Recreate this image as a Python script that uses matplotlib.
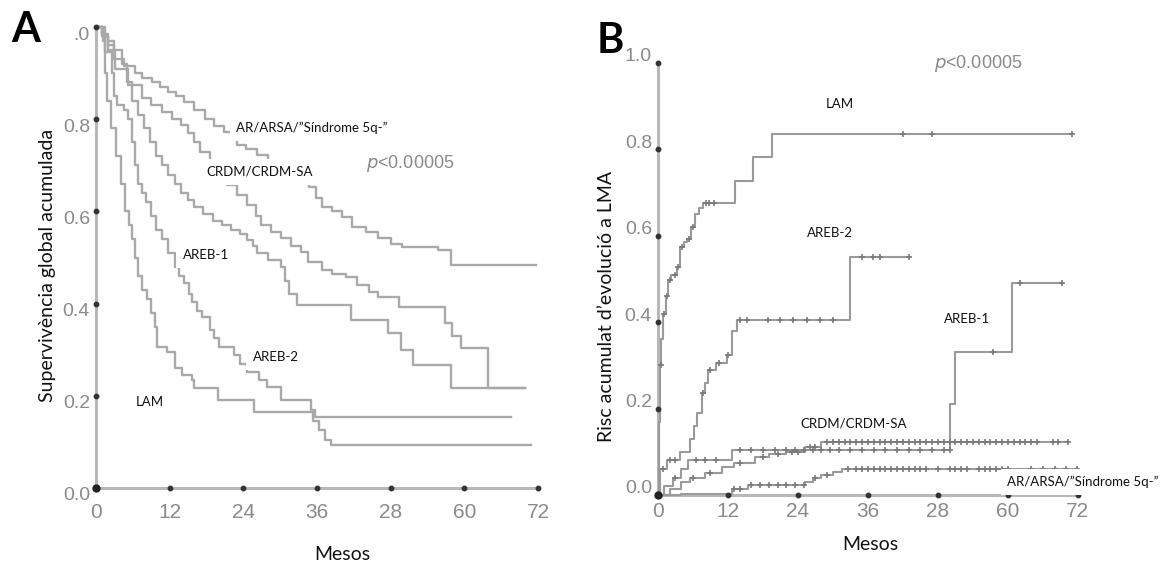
import numpy as np
import matplotlib
matplotlib.use("Agg")
import matplotlib.pyplot as plt

# ---------------- data: panel A (overall survival, Kaplan-Meier) ----------------
A_LAM_t = [0, 1.2, 1.5, 1.8, 2.5, 3.2, 4.0, 4.8, 5.3, 5.8, 6.3, 6.8, 7.5, 8.3, 9.0, 9.6, 9.9,
           11.5, 12.8, 14.0, 15.6, 16.0, 19.8, 25.8, 35.3, 36.3, 37.3, 38.3]
A_LAM_s = [1.0, 0.97, 0.90, 0.84, 0.78, 0.72, 0.66, 0.60, 0.57, 0.54, 0.50, 0.46, 0.43, 0.41, 0.38, 0.35, 0.305,
           0.295, 0.26, 0.245, 0.234, 0.217, 0.19, 0.165, 0.145, 0.125, 0.105, 0.093]
A_LAM_end = 70.8

A_AREB2_t = [0, 1.0, 2.0, 2.6, 2.9, 3.5, 4.5, 5.2, 5.8, 6.4, 6.8, 7.5, 8.2, 9.0, 9.8, 10.7, 11.8, 12.8,
             13.6, 14.4, 15.2, 15.7, 16.5, 17.2, 18.5, 19.3, 20.1, 22.5, 23.5, 24.6, 26.5, 27.9, 30.1, 35.0, 35.6]
A_AREB2_s = [1.0, 0.98, 0.95, 0.90, 0.85, 0.83, 0.82, 0.80, 0.75, 0.70, 0.66, 0.64, 0.62, 0.59, 0.56, 0.54, 0.51, 0.48,
             0.46, 0.445, 0.42, 0.403, 0.385, 0.371, 0.343, 0.325, 0.306, 0.288, 0.27, 0.252, 0.235, 0.219, 0.19, 0.17, 0.155]
A_AREB2_end = 67.6

A_AREB1_t = [0, 1.0, 2.0, 3.0, 4.2, 5.0, 5.8, 6.8, 7.8, 8.8, 9.8, 10.7, 11.8, 12.8, 13.9, 15.0, 16.0, 17.5,
             19.0, 20.5, 22.0, 23.5, 24.6, 25.5, 26.3, 28.0, 30.1, 30.8, 31.4, 32.7, 41.5, 47.6, 49.6, 51.7, 57.9]
A_AREB1_s = [1.0, 0.985, 0.97, 0.95, 0.92, 0.88, 0.84, 0.81, 0.78, 0.75, 0.72, 0.70, 0.68, 0.66, 0.64, 0.625, 0.61, 0.595,
             0.58, 0.57, 0.56, 0.55, 0.538, 0.525, 0.51, 0.495, 0.48, 0.45, 0.42, 0.397, 0.364, 0.336, 0.30, 0.267, 0.217]
A_AREB1_end = 69.9

A_CRDM_t = [0, 1.5, 3.1, 5.2, 7.5, 9.0, 10.7, 12.3, 13.9, 15.0, 16.0, 17.0, 18.5, 20.0, 21.4, 23.0, 24.6, 26.0,
            26.9, 28.5, 30.1, 31.7, 33.4, 34.5, 36.8, 38.5, 40.7, 42.5, 44.5, 46.0, 49.3, 56.9, 58.0, 59.5, 63.9]
A_CRDM_s = [1.0, 0.946, 0.91, 0.874, 0.846, 0.83, 0.816, 0.80, 0.787, 0.77, 0.75, 0.73, 0.71, 0.69, 0.657, 0.635, 0.614, 0.59,
            0.57, 0.555, 0.542, 0.525, 0.512, 0.49, 0.473, 0.465, 0.458, 0.44, 0.425, 0.414, 0.393, 0.358, 0.33, 0.304, 0.217]
A_CRDM_end = 69.9

A_AR_t = [0, 1, 2, 3, 4.5, 6.3, 7.5, 9.1, 10.5, 11.7, 13, 14.4, 16, 17.7, 19.3, 20.9, 23, 24.5, 26.3, 28, 30, 32,
          33.5, 34.7, 35.8, 36.8, 38.5, 40, 41.7, 44, 46, 48, 49.8, 55.7, 57.9]
A_AR_s = [1.0, 0.98, 0.96, 0.93, 0.915, 0.90, 0.89, 0.88, 0.87, 0.86, 0.85, 0.837, 0.82, 0.80, 0.785, 0.772, 0.744, 0.735,
          0.722, 0.71, 0.695, 0.68, 0.665, 0.653, 0.63, 0.61, 0.60, 0.588, 0.566, 0.555, 0.542, 0.53, 0.523, 0.516, 0.484]
A_AR_end = 71.6

# ---------------- data: panel B (cumulative risk of AML) ----------------
B_LAM_t = [0, 0.2, 0.4, 0.6, 0.9, 1.3, 1.7, 2.3, 3.2, 3.8, 4.4, 5.0, 5.6, 6.3, 7.0, 7.7, 13.2, 16.3, 19.5]
B_LAM_v = [0, 0.17, 0.30, 0.36, 0.42, 0.46, 0.497, 0.51, 0.527, 0.573, 0.585, 0.593, 0.62, 0.65, 0.665, 0.677,
           0.727, 0.783, 0.836]
B_LAM_end = 71.0
B_LAM_cens = [0.5, 1.0, 1.5, 2.0, 3.0, 3.5, 4.2, 5.3, 6.0, 8.2, 8.8, 9.6, 42.0, 47.0, 71.0]

B_AREB2_t = [0, 0.3, 1.5, 3.8, 5.5, 6.2, 6.7, 7.5, 8.0, 8.6, 10.0, 11.8, 12.7, 13.5, 33.0]
B_AREB2_v = [0, 0.06, 0.08, 0.10, 0.13, 0.16, 0.19, 0.235, 0.26, 0.29, 0.305, 0.323, 0.38, 0.404, 0.552]
B_AREB2_end = 43.2
B_AREB2_cens = [0.8, 2.0, 3.0, 7.8, 9.0, 10.5, 12.0, 14.0, 15.3, 18.9, 20.9, 23.1, 25.5, 27.8, 30.0,
                35.0, 36.9, 38.0, 43.0]

B_AREB1_t = [0, 1, 2.5, 4, 5.1, 12.7, 50.1, 50.9, 60.7]
B_AREB1_v = [0, 0.02, 0.04, 0.06, 0.08, 0.104, 0.21, 0.33, 0.49]
B_AREB1_end = 69.3
B_AREB1_cens = [3, 6.5, 8, 10, 14, 16, 18, 20, 22, 23.5, 25, 26.5, 28, 29.5, 31, 33, 35, 37, 39, 41, 43,
                45, 47, 49, 50, 57.4, 62, 69.3]

B_CRDM_t = [0, 2, 4, 5.5, 8, 11, 13, 16.6, 19, 22, 25.2, 28]
B_CRDM_v = [0, 0.015, 0.03, 0.04, 0.05, 0.065, 0.075, 0.088, 0.095, 0.10, 0.11, 0.122]
B_CRDM_end = 70.3
B_CRDM_cens = [6, 9, 14, 18, 20.5, 23, 24, 26, 27, 29, 30, 31, 32, 33, 34, 35, 36, 37, 38, 39, 40, 41, 42,
               43, 44, 45, 46, 47, 48, 49, 50, 51, 52, 53, 54, 55, 56, 57, 58, 59, 60, 61, 62, 63, 64, 65,
               67.7, 68.6, 70.3]

B_AR_t = [0, 4, 12.7, 15.4, 25.2, 26.5, 28, 30, 31.5]
B_AR_v = [0, 0.003, 0.015, 0.023, 0.03, 0.04, 0.046, 0.053, 0.06]
B_AR_end = 71.8
B_AR_cens = [13, 14, 16, 17.5, 19, 20.5, 22, 23.5, 25, 27, 29, 32.6, 34, 35, 36, 37, 38, 39, 40, 41, 42,
             43, 44, 45, 46, 48, 50, 51, 52, 53, 55, 56, 57, 58, 59, 60, 64, 66, 68, 70, 71.8]

x_ticks = [0, 12, 24, 36, 48, 60, 72]
x_tick_labels = ["0", "12", "24", "36", "28", "60", "72"]
y_ticks = [0.0, 0.2, 0.4, 0.6, 0.8, 1.0]
yA_tick_labels = ["0.0", "0.2", "0.4", "0.6", "0.8", ".0"]
yB_tick_labels = ["0.0", "0.2", "0.4", "0.6", "0.8", "1.0"]

# ---------------- figure ----------------
W, H = 1161, 565
fig = plt.figure(figsize=(W / 100, H / 100), dpi=100)
fig.patch.set_facecolor("white")

LABEL_FONT = ["Lato", "DejaVu Sans"]
TICK_FONT = ["Liberation Sans Narrow", "Liberation Sans", "DejaVu Sans"]
TICK_COL = "#8a8a8a"
AX_COL = "#b8b8b8"


def fx(px):
    return px / W


def fy(py):
    return 1 - py / H


axA = fig.add_axes([0.0721, 0.1363, 0.4019, 0.8403])
axB = fig.add_axes([0.5567, 0.1239, 0.3818, 0.7876])

for ax in (axA, axB):
    ax.set_xlim(-2, 74)
    ax.set_ylim(0, 1.03)
    ax.axis("off")
    ax.plot([0, 72], [0, 0], color=AX_COL, lw=2.2, clip_on=False, zorder=1, solid_capstyle="butt")
    ax.plot([0, 0], [0, 1.0], color=AX_COL, lw=2.2, clip_on=False, zorder=1, solid_capstyle="butt")
    ax.plot(x_ticks[1:], [0] * (len(x_ticks) - 1), "o", ms=3.2, color="#333333", clip_on=False, zorder=3)
    ax.plot([0] * len(y_ticks), y_ticks, "o", ms=3.2, color="#333333", clip_on=False, zorder=3)
    ax.plot([0], [0], "o", ms=5, color="#222222", clip_on=False, zorder=3)


def km(ax, t, s, end, color, lw):
    tt = list(t) + [end]
    ss = list(s) + [s[-1]]
    ax.step(tt, ss, where="post", color=color, lw=lw, clip_on=False, zorder=2)


def cens(ax, t, v, ct):
    ta = np.asarray(t)
    va = np.asarray(v)
    idx = np.searchsorted(ta, np.asarray(ct), side="right") - 1
    ax.plot(ct, va[idx], "+", ms=4.5, mew=1.2, color="#7a7a7a", clip_on=False, zorder=2.5, ls="none")


# panel A curves
A_COL = "#a9a9a9"
km(axA, A_AR_t, A_AR_s, A_AR_end, A_COL, 1.7)
km(axA, A_CRDM_t, A_CRDM_s, A_CRDM_end, A_COL, 1.7)
km(axA, A_AREB1_t, A_AREB1_s, A_AREB1_end, A_COL, 1.7)
km(axA, A_AREB2_t, A_AREB2_s, A_AREB2_end, A_COL, 1.7)
km(axA, A_LAM_t, A_LAM_s, A_LAM_end, A_COL, 1.7)

# panel B curves
B_COL = "#9a9a9a"
for t, v, e, c in [(B_LAM_t, B_LAM_v, B_LAM_end, B_LAM_cens),
                   (B_AREB2_t, B_AREB2_v, B_AREB2_end, B_AREB2_cens),
                   (B_AREB1_t, B_AREB1_v, B_AREB1_end, B_AREB1_cens),
                   (B_CRDM_t, B_CRDM_v, B_CRDM_end, B_CRDM_cens),
                   (B_AR_t, B_AR_v, B_AR_end, B_AR_cens)]:
    km(axB, t, v, e, B_COL, 1.5)
    cens(axB, t, v, c)

# tick labels
PT = 0.72  # points per pixel
for ax, xoff, ylabs, yoff in [(axA, 25, yA_tick_labels, -8), (axB, 17, yB_tick_labels, 6)]:
    for xt, lab in zip(x_ticks, x_tick_labels):
        ax.annotate(lab, (xt, 0), xytext=(0, -xoff * PT), textcoords="offset points",
                    ha="center", va="center", fontsize=15, color=TICK_COL, family=TICK_FONT,
                    annotation_clip=False)
    for yt, lab in zip(y_ticks, ylabs):
        ax.annotate(lab, (0, yt), xytext=(-6 * PT, yoff * PT), textcoords="offset points",
                    ha="right", va="center", fontsize=14, color=TICK_COL, family=TICK_FONT,
                    annotation_clip=False)

# axis labels
fig.text(fx(48), fy(265), "Supervivència global acumulada", rotation=90, ha="center", va="center",
         fontsize=14, family=LABEL_FONT, color="#111111")
fig.text(fx(342), fy(555), "Mesos", ha="center", va="center", fontsize=14, family=LABEL_FONT, color="#111111")
fig.text(fx(607), fy(306), "Risc acumulat d’evolució a LMA", rotation=90, ha="center", va="center",
         fontsize=14, family=LABEL_FONT, color="#111111")
fig.text(fx(870), fy(545), "Mesos", ha="center", va="center", fontsize=14, family=LABEL_FONT, color="#111111")

# panel letters
fig.text(fx(26), fy(30), "A", ha="center", va="center", fontsize=30, fontweight="bold", family=LABEL_FONT)
fig.text(fx(610), fy(41), "B", ha="center", va="center", fontsize=30, fontweight="bold", family=LABEL_FONT)

# p-values
for (px, py) in [(410, 163), (978, 63)]:
    fig.text(fx(px), fy(py), r"$\it{p}$<0.00005", ha="center", va="center", fontsize=13,
             color="#8a8a8a", family=TICK_FONT)

# curve labels
box = dict(boxstyle="square,pad=0.5", fc="white", ec="none")
curve_labels = [
    ("AR/ARSA/”Síndrome 5q-”", 312, 128),
    ("CRDM/CRDM-SA", 260, 172),
    ("AREB-1", 206, 255),
    ("AREB-2", 276, 357),
    ("LAM", 150, 402),
    ("LAM", 840, 104),
    ("AREB-2", 830, 233),
    ("AREB-1", 967, 319),
    ("CRDM/CRDM-SA", 854, 423),
    ("AR/ARSA/”Síndrome 5q-”", 1083, 482),
]
for txt, px, py in curve_labels:
    fig.text(fx(px), fy(py), txt, ha="center", va="center", fontsize=9.5, family=LABEL_FONT,
             color="#111111", bbox=box, zorder=10)

fig.savefig("out.png", dpi=100, facecolor="white")
